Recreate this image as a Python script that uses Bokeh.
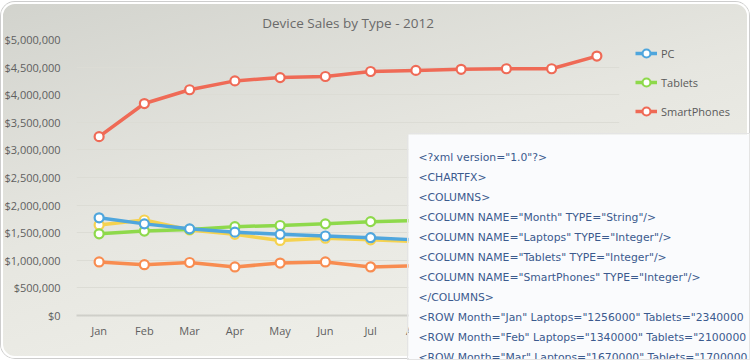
from bokeh.plotting import figure
from bokeh.models import (FactorRange, Range1d, FixedTicker, NumeralTickFormatter,
                          Legend, LegendItem, Label)
from bokeh.embed import file_html
from bokeh.resources import INLINE

# ---------------- data ----------------
months = ["Jan", "Feb", "Mar", "Apr", "May", "Jun", "Jul", "Aug", "Sep", "Oct", "Nov", "Dec"]
pc = [1770000, 1660000, 1570000, 1510000, 1470000, 1440000, 1410000, 1370000]
tablets = [1480000, 1530000, 1560000, 1610000, 1630000, 1660000, 1700000, 1720000]
smartphones = [3240000, 3840000, 4090000, 4250000, 4310000, 4330000, 4420000,
               4440000, 4460000, 4470000, 4470000, 4700000]
laptops = [1640000, 1730000, 1550000, 1470000, 1360000, 1400000, 1370000, 1340000]
netbooks = [970000, 920000, 960000, 880000, 950000, 970000, 880000, 900000]
y_ticks = [0, 500000, 1000000, 1500000, 2000000, 2500000, 3000000, 3500000,
           4000000, 4500000, 5000000]
title_text = "Device Sales by Type - 2012"
xml_lines = [
    '<?xml version="1.0"?>',
    '<CHARTFX>',
    '<COLUMNS>',
    '<COLUMN NAME="Month" TYPE="String"/>',
    '<COLUMN NAME="Laptops" TYPE="Integer"/>',
    '<COLUMN NAME="Tablets" TYPE="Integer"/>',
    '<COLUMN NAME="SmartPhones" TYPE="Integer"/>',
    '</COLUMNS>',
    '<ROW Month="Jan" Laptops="1256000" Tablets="2340000',
    '<ROW Month="Feb" Laptops="1340000" Tablets="2100000',
    '<ROW Month="Mar" Laptops="1670000" Tablets="1700000',
]

FONT = "Open Sans"

# ---------------- main chart ----------------
fig = figure(x_range=FactorRange(factors=months), y_range=Range1d(0, 5000000),
             width=748, height=356, output_backend="svg", toolbar_location=None,
             min_border_left=74, min_border_right=130, min_border_top=37,
             min_border_bottom=43)
fig.styles = {
    "position": "absolute",
    "left": "1px",
    "top": "2px",
    "border-radius": "14px",
    "box-shadow": "0 0 0 1px #cdcdcd, inset 0 0 0 2px #ffffff",
    "background": "linear-gradient(165deg, #d2d3cd 0%, #e6e6e0 45%, #f3f3ed 100%)",
}
fig.border_fill_alpha = 0
fig.background_fill_alpha = 0
fig.outline_line_color = None

fig.title.text = title_text
fig.title.align = "center"
fig.title.text_font = FONT
fig.title.text_font_size = "13.5px"
fig.title.text_font_style = "normal"
fig.title.text_color = "#6a6a6a"
fig.title.standoff = 16

for ax in (fig.xaxis, fig.yaxis):
    ax.major_tick_line_color = None
    ax.minor_tick_line_color = None
    ax.major_label_text_font = FONT
    ax.major_label_text_font_size = "11px"
    ax.major_label_text_color = "#5f5f5f"
fig.yaxis.axis_line_color = None
fig.xaxis.axis_line_color = "#cfcfc9"
fig.xaxis.axis_line_width = 2
fig.yaxis.major_label_standoff = 10
fig.xaxis.major_label_standoff = 1
fig.yaxis.ticker = FixedTicker(ticks=y_ticks)
fig.yaxis.formatter = NumeralTickFormatter(format="$0,0")
fig.xgrid.grid_line_color = None
fig.ygrid.grid_line_color = "#dcdcd5"

series = [
    ("PC", pc, "#4fa6dd"),
    ("Tablets", tablets, "#8ed94b"),
    ("SmartPhones", smartphones, "#ef6a56"),
    (None, laptops, "#f5d24f"),
    (None, netbooks, "#f88c50"),
]
draw_order = [3, 4, 1, 0, 2]
for i in draw_order:
    name, vals, col = series[i]
    xs = months[:len(vals)]
    fig.line(xs, vals, line_color=col, line_width=3.5)
    fig.scatter(xs, vals, size=9, fill_color="white", line_color=col, line_width=2.2)

# ---------------- legend (separate transparent layer) ----------------
# the series are drawn again here only to feed the legend; the y range keeps them out of view
lg = figure(width=112, height=80, x_range=FactorRange(factors=months),
            y_range=Range1d(-2, -1), output_backend="svg", toolbar_location=None,
            min_border=0, x_axis_type=None, y_axis_type=None)
lg.outline_line_color = None
lg.background_fill_alpha = 0
lg.border_fill_alpha = 0
lg.xgrid.visible = False
lg.ygrid.visible = False
lg.styles = {"position": "absolute", "left": "635px", "top": "43px"}
items = []
for name, vals, col in series[:3]:
    xs = months[:len(vals)]
    r1 = lg.line(xs, vals, line_color=col, line_width=3.5)
    r2 = lg.scatter(xs, vals, size=9, fill_color="white", line_color=col, line_width=2.2)
    items.append(LegendItem(label=name, renderers=[r1, r2]))
legend = Legend(items=items, location="top_left", orientation="vertical",
                glyph_width=22, glyph_height=20, label_height=20, spacing=9,
                padding=0, margin=0, label_standoff=4, border_line_color=None,
                background_fill_alpha=0, label_text_font=FONT,
                label_text_font_size="11px", label_text_color="#5a5a5a",
                label_text_baseline="middle")
lg.add_layout(legend)

# ---------------- XML overlay panel ----------------
ov = figure(width=341, height=225, x_range=Range1d(0, 341), y_range=Range1d(225, 0),
            output_backend="svg", toolbar_location=None, min_border=0,
            x_axis_type=None, y_axis_type=None)
ov.outline_line_color = None
ov.background_fill_color = "#fafbfd"
ov.border_fill_color = "#fafbfd"
ov.xgrid.visible = False
ov.ygrid.visible = False
ov.styles = {
    "position": "absolute",
    "left": "408px",
    "top": "134px",
    "border-top-left-radius": "4px",
    "box-shadow": "0 0 0 1px #e4e4e4",
}
for k, line in enumerate(xml_lines):
    ov.add_layout(Label(x=10, y=23 + 20 * k, text=line, text_font="DejaVu Sans",
                        text_font_size="10.8px", text_color="#3b5a8e",
                        text_baseline="middle"))

p = [fig, lg, ov]
open("out.html", "w").write(file_html(p, INLINE))
